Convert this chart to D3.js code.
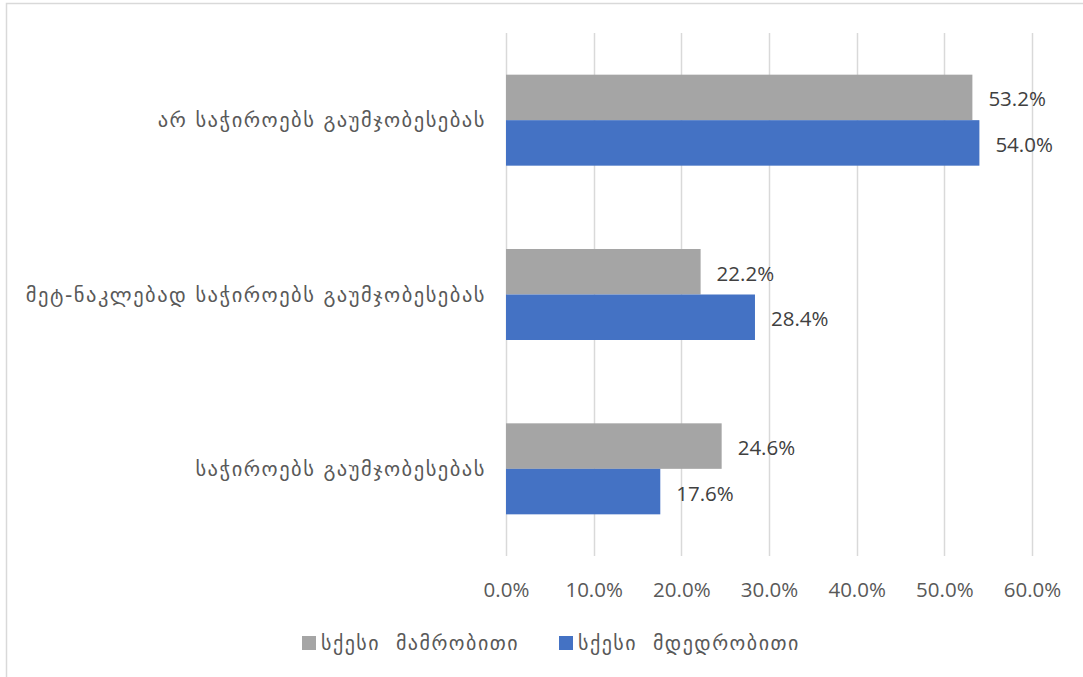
<!DOCTYPE html>
<html>
<head>
<meta charset="utf-8">
<script src="https://cdn.jsdelivr.net/npm/d3@7"></script>
<style>
  html, body { margin: 0; padding: 0; background: #fff; }
  svg { display: block; }
  .geo { font-family: "DejaVu Sans", sans-serif; white-space: pre; }
  .num { font-family: "Open Sans", "Liberation Sans", sans-serif; }
</style>
</head>
<body>
<svg id="chart" width="1083" height="677"></svg>
<script>
const categories = [
  "არ საჭიროებს გაუმჯობესებას",
  "მეტ-ნაკლებად საჭიროებს გაუმჯობესებას",
  "საჭიროებს გაუმჯობესებას"
];
const seriesNames = ["სქესი  მამრობითი", "სქესი  მდედრობითი"];
const seriesColors = ["#A5A5A5", "#4472C4"];
const maleValues = [53.2, 22.2, 24.6];
const femaleValues = [54.0, 28.4, 17.6];
const tickValues = [0, 10, 20, 30, 40, 50, 60];

const seriesValues = [maleValues, femaleValues];
const rows = [];
categories.forEach((c, i) => {
  seriesNames.forEach((s, j) => rows.push({ cat: c, series: s, si: j, value: seriesValues[j][i] }));
});

const svg = d3.select("#chart");

// chart border (only top/left visible in frame)
svg.append("rect")
  .attr("x", 6.5).attr("y", 3.5)
  .attr("width", 1200).attr("height", 800)
  .attr("fill", "none").attr("stroke", "#D9D9D9").attr("stroke-width", 1.5);

const plot = { left: 506, right: 1032, top: 33, bottom: 556 };

const x = d3.scaleLinear().domain([0, 60]).range([plot.left, plot.right]);
const y = d3.scaleBand().domain(categories).range([plot.top, plot.bottom])
  .paddingInner(0.478).paddingOuter(0.239);
const y1 = d3.scaleBand().domain(seriesNames).range([0, y.bandwidth()]);

// gridlines
svg.append("g").selectAll("line").data(tickValues).join("line")
  .attr("x1", d => Math.round(x(d)) + 0.5).attr("x2", d => Math.round(x(d)) + 0.5)
  .attr("y1", plot.top).attr("y2", plot.bottom)
  .attr("stroke", "#D9D9D9").attr("stroke-width", 1.5);

// x axis tick labels via d3 axis
const xAxis = d3.axisBottom(x).tickValues(tickValues)
  .tickFormat(d => d3.format(".1f")(d) + "%").tickSize(0).tickPadding(0);
const gx = svg.append("g").attr("transform", `translate(0, ${plot.bottom + 26})`).call(xAxis);
gx.select(".domain").remove();
gx.selectAll("text")
  .attr("class", "num")
  .attr("font-size", 20.5).attr("fill", "#595959")
  .attr("dy", "0.71em");

// bars
svg.append("g").selectAll("rect").data(rows).join("rect")
  .attr("x", x(0))
  .attr("y", d => y(d.cat) + y1(d.series))
  .attr("width", d => x(d.value) - x(0))
  .attr("height", y1.bandwidth())
  .attr("fill", d => seriesColors[d.si]);

// data labels
svg.append("g").selectAll("text").data(rows).join("text")
  .attr("class", "num")
  .attr("x", d => x(d.value) + 16)
  .attr("y", d => y(d.cat) + y1(d.series) + y1.bandwidth() / 2 + 1)
  .attr("dominant-baseline", "central")
  .attr("font-size", 20.5).attr("fill", "#404040")
  .text(d => d.value.toFixed(1) + "%");

// category labels
const yAxis = d3.axisLeft(y).tickSize(0).tickPadding(0);
const gy = svg.append("g").attr("transform", `translate(${plot.left - 20}, 0)`).call(yAxis);
gy.select(".domain").remove();
gy.selectAll("text")
  .attr("class", "geo")
  .attr("font-size", 20.5).attr("letter-spacing", 1.5).attr("fill", "#595959")
  .attr("dy", "0.35em");

// legend
const legendItems = [
  { name: seriesNames[0], color: seriesColors[0], x: 302 },
  { name: seriesNames[1], color: seriesColors[1], x: 559 }
];
const lg = svg.append("g").selectAll("g").data(legendItems).join("g")
  .attr("transform", d => `translate(${d.x}, 643)`);
lg.append("rect").attr("x", 0).attr("y", -7).attr("width", 14).attr("height", 14)
  .attr("fill", d => d.color);
lg.append("text").attr("class", "geo")
  .attr("x", 19).attr("y", 0).attr("dy", "0.35em")
  .attr("font-size", 20).attr("letter-spacing", 1.5).attr("fill", "#595959")
  .text(d => d.name);
</script>
</body>
</html>
